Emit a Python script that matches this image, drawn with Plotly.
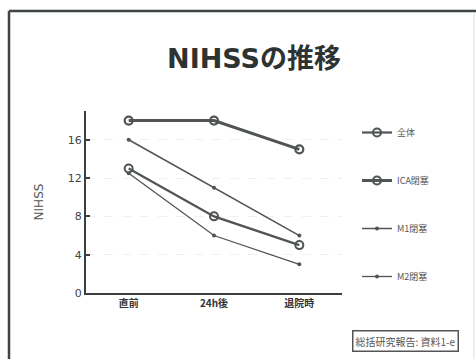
import plotly.graph_objects as go

# NIHSS score over time by occlusion site
timepoints = ["直前", "24h後", "退院時"]
series_names = ["全体", "ICA閉塞", "M1閉塞", "M2閉塞"]
overall = [13, 8, 5]
ica = [18, 18, 15]
m1 = [16, 11, 6]
m2 = [12.5, 6, 3]
y_ticks = [0, 4, 8, 12, 16]

W, H = 476, 359
L, R, T, B = 86, 134, 111, 66
plot_w = W - L - R
plot_h = H - T - B


def px_x(px):
    return (px - L) / plot_w


def px_y(py):
    return (H - B - py) / plot_h


FONT = "DejaVu Sans, Noto Sans CJK JP, sans-serif"
JP = "Noto Sans CJK JP, sans-serif"
INK = "#3c3f3f"
LINE = "#505454"

styles = [
    dict(values=overall, lw=2.2, symbol="circle-open", size=8, mline=2),
    dict(values=ica, lw=3.0, symbol="circle-open", size=8, mline=2.2),
    dict(values=m1, lw=1.5, symbol="circle", size=4, mline=0),
    dict(values=m2, lw=1.3, symbol="circle", size=4, mline=0),
]

fig = go.Figure()
for name, st in zip(series_names, styles):
    fig.add_trace(go.Scatter(
        x=timepoints, y=st["values"], name=name, mode="lines+markers",
        legendgroup=name,
        line=dict(color=LINE, width=st["lw"]),
        marker=dict(symbol=st["symbol"], size=st["size"], color=LINE,
                    line=dict(width=st["mline"], color=LINE)),
    ))

fig.update_layout(
    width=W, height=H,
    margin=dict(l=L, r=R, t=T, b=B),
    paper_bgcolor="white", plot_bgcolor="white",
    showlegend=True,
    legend=dict(x=px_x(357), y=px_y(118), xanchor="left", yanchor="top",
                font=dict(family=JP, size=9, color="#555"),
                tracegroupgap=29, itemwidth=30, bgcolor="rgba(0,0,0,0)"),
    title=dict(text="<b>NIHSSの推移</b>", xref="container", x=254 / W,
               xanchor="center", y=1 - 59 / H, yanchor="middle",
               font=dict(family=FONT, size=27, color="#2d3333")),
)

fig.update_xaxes(
    range=[-0.5, 2.5], showline=True, linecolor=INK, linewidth=2,
    ticks="", showgrid=False, zeroline=False,
    tickfont=dict(family=JP, size=10, color="#333"),
    tickprefix="<b>", ticksuffix="</b>",
)
fig.update_yaxes(
    range=[0, 19], tickvals=y_ticks, showline=True, linecolor=INK, linewidth=2,
    ticks="inside", ticklen=4, tickcolor=INK, tickwidth=1.5,
    showgrid=True, gridcolor="#f0f0f0", griddash="dash", gridwidth=1,
    zeroline=False,
    tickfont=dict(family=FONT, size=11, color="#444"),
    tickprefix="<b>", ticksuffix="</b>",
    title=dict(text="NIHSS", font=dict(family=FONT, size=12, color="#555"),
               standoff=22),
)

# Slide frame
fig.add_shape(type="line", xref="paper", yref="paper",
              x0=px_x(9), x1=px_x(476), y0=px_y(11), y1=px_y(11),
              line=dict(color="#3f4545", width=2.5))
fig.add_shape(type="line", xref="paper", yref="paper",
              x0=px_x(9), x1=px_x(9), y0=px_y(11), y1=px_y(362),
              line=dict(color="#3f4545", width=2.5))
fig.add_shape(type="line", xref="paper", yref="paper",
              x0=px_x(474), x1=px_x(474), y0=px_y(12), y1=px_y(362),
              line=dict(color="#dde0e0", width=1))

# Source note box
fig.add_annotation(
    xref="paper", yref="paper", x=px_x(405), y=px_y(341),
    xanchor="center", yanchor="middle",
    text="総括研究報告: 資料1-e", showarrow=False,
    font=dict(family=JP, size=10, color="#555"),
    bordercolor="#555", borderwidth=1.5, borderpad=2, bgcolor="white",
)

fig.write_html("out.html")
